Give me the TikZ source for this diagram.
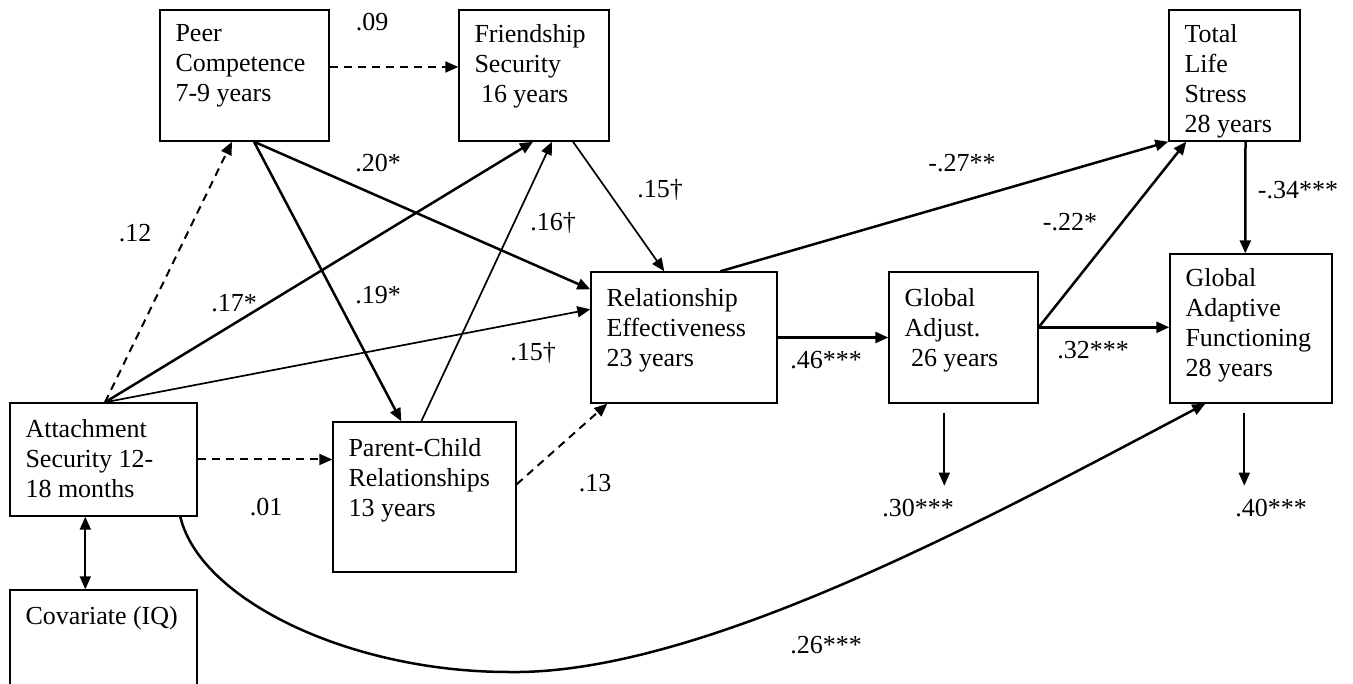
\documentclass[tikz,border=0pt]{standalone}
\usepackage{fontspec}
\setmainfont{Liberation Serif}
\usetikzlibrary{arrows.meta,calc}
\begin{document}
\begin{tikzpicture}[x=1pt,y=-1pt,
  box/.style={draw,line width=1.4pt,rectangle,inner sep=0pt},
  lbl/.style={align=left,inner sep=0pt,font=\fontsize{26}{30}\selectfont},
  coef/.style={inner sep=0pt,font=\fontsize{26}{30}\selectfont},
  tip/.tip={Triangle[length=13pt,width=11pt]},
  arr/.style={line width=2.5pt,-tip},
  thinarr/.style={line width=1.7pt,-tip},
  dasharr/.style={line width=2pt,dash pattern=on 8pt off 6pt,-tip}]
\useasboundingbox[fill=white] (0,0) rectangle (1353,684);
% boxes
\node[box,minimum width=169pt,minimum height=131pt] (peer) at (244.5,75.5) {};
\node[box,minimum width=150pt,minimum height=131pt] (friend) at (534,75.5) {};
\node[box,minimum width=131pt,minimum height=131pt] (total) at (1234.5,75.5) {};
\node[box,minimum width=186pt,minimum height=131pt] (rel) at (684,337.5) {};
\node[box,minimum width=149pt,minimum height=131pt] (adj) at (963.5,337.5) {};
\node[box,minimum width=162pt,minimum height=149pt] (gaf) at (1251,328.5) {};
\node[box,minimum width=187pt,minimum height=113pt] (att) at (103.5,459.5) {};
\node[box,minimum width=183pt,minimum height=150pt] (pc) at (424.5,497) {};
\node[box,minimum width=187pt,minimum height=110pt] (cov) at (103.5,645) {};
% box texts
\node[lbl,anchor=north west] (peerT) at ([xshift=16pt,yshift=-15pt]peer.north west) {Peer\\Competence\\7-9 years};
\node[lbl,anchor=north west] (friendT) at ([xshift=16pt,yshift=-15pt]friend.north west) {Friendship\\Security\\\ 16 years};
\node[lbl,anchor=north west] (totalT) at ([xshift=16pt,yshift=-15pt]total.north west) {Total\\Life\\Stress\\28 years};
\node[lbl,anchor=north west] (relT) at ([xshift=16pt,yshift=-17pt]rel.north west) {Relationship\\Effectiveness\\23 years};
\node[lbl,anchor=north west] (adjT) at ([xshift=16pt,yshift=-17pt]adj.north west) {Global\\Adjust.\\\ 26 years};
\node[lbl,anchor=north west] (gafT) at ([xshift=16pt,yshift=-15pt]gaf.north west) {Global\\Adaptive\\Functioning\\28 years};
\node[lbl,anchor=north west] (attT) at ([xshift=16pt,yshift=-17pt]att.north west) {Attachment\\Security 12-\\18 months};
\node[lbl,anchor=north west] (pcT) at ([xshift=16pt,yshift=-17pt]pc.north west) {Parent-Child\\Relationships\\13 years};
\node[lbl,anchor=north west] (covT) at ([xshift=16pt,yshift=-17pt]cov.north west) {Covariate (IQ)};
% helper coordinates
\coordinate (attTop) at ($(att.north)+(1.5,0)$);
\coordinate (peerBotL) at ($(peer.south)+(-12.5,0)$);
\coordinate (peerBotR) at ($(peer.south)+(9.5,0)$);
\coordinate (friendB1) at ($(friend.south)+(-1,0)$);
\coordinate (friendB2) at ($(friend.south)+(18,0)$);
\coordinate (friendB3) at ($(friend.south)+(39,0)$);
\coordinate (relW1) at ($(rel.north west)+(0,18)$);
\coordinate (relW2) at ($(rel.north west)+(0,38)$);
\coordinate (relN1) at ($(rel.north west)+(74,0)$);
\coordinate (relN2) at ($(rel.north west)+(130,0)$);
\coordinate (relS1) at ($(rel.south west)+(17,0)$);
\coordinate (pcN1) at ($(pc.north west)+(69,0)$);
\coordinate (pcN2) at ($(pc.north west)+(89,0)$);
\coordinate (pcE1) at ($(pc.north east)+(0,63)$);
\coordinate (pcW1) at (pc.west |- att.east);
\coordinate (adjE1) at ($(adj.north east)+(0,56)$);
\coordinate (gafW1) at ($(gaf.north west)+(0,74)$);
\coordinate (totalS1) at ($(total.south west)+(18,0)$);
\coordinate (totalS2) at ($(total.south)+(11,0)$);
\coordinate (gafN1) at ($(gaf.north west)+(76,0)$);
\coordinate (attS1) at ($(att.south west)+(76,0)$);
\coordinate (covN1) at ($(cov.north west)+(76,0)$);
\coordinate (attS2) at ($(att.south west)+(171,0)$);
\coordinate (gafS1) at ($(gaf.south west)+(36,0)$);
\coordinate (adjR1) at ($(adj.south west)+(56,9)$);
\coordinate (adjR2) at ($(adj.south west)+(56,82)$);
\coordinate (gafR1) at ($(gaf.south west)+(75,9)$);
\coordinate (gafR2) at ($(gaf.south west)+(75,82)$);
\coordinate (low) at (509,672);
% connectors
\draw[dasharr] ([yshift=8.5pt]peer.east) -- ([yshift=8.5pt]friend.west);
\draw[dasharr] (attTop) -- (peerBotL);
\draw[arr] (attTop) -- (friendB1);
\draw[thinarr] (attTop) -- (relW2);
\draw[arr] (peerBotR) -- (relW1);
\draw[arr] (peerBotR) -- (pcN1);
\draw[thinarr] (pcN2) -- (friendB2);
\draw[thinarr] (friendB3) -- (relN1);
\draw[dasharr] (att.east) -- (pcW1);
\draw[dasharr] (pcE1) -- (relS1);
\draw[arr] (rel.east) -- (adj.west);
\draw[arr] (relN2) -- (total.south west);
\draw[arr] (adjE1) -- (totalS1);
\draw[arr] (adjE1) -- (gafW1);
\draw[arr] (totalS2) -- (gafN1);
\draw[thinarr] (adjR1) -- (adjR2);
\draw[thinarr] (gafR1) -- (gafR2);
\draw[line width=2pt,tip-tip] (attS1) -- (covN1);
\draw[arr] (attS2) .. controls (200,600) and (350,672) .. (low) .. controls (700,675) and (985,520) .. (gafS1);
% coefficients
\node[coef] (c09) at (372,22) {.09};
\node[coef] (c20) at (378,163) {.20*};
\node[coef] (c15a) at (660,190) {.15†};
\node[coef] (c12) at (135,233) {.12};
\node[coef] (c16) at (553,223) {.16†};
\node[coef] (c17) at (234,303) {.17*};
\node[coef] (c19) at (378,295) {.19*};
\node[coef] (c15b) at (533,353) {.15†};
\node[coef] (c01) at (266,507) {.01};
\node[coef] (c13) at (595,483) {.13};
\node[coef] (c27) at (962,163) {-.27**};
\node[coef] (c22) at (1070,222) {-.22*};
\node[coef] (c34) at (1298,190) {-.34***};
\node[coef] (c46) at (826,360) {.46***};
\node[coef] (c32) at (1093,350) {.32***};
\node[coef] (c30) at (918,508) {.30***};
\node[coef] (c40) at (1271,508) {.40***};
\node[coef] (c26) at (826,645) {.26***};
\end{tikzpicture}
\end{document}
